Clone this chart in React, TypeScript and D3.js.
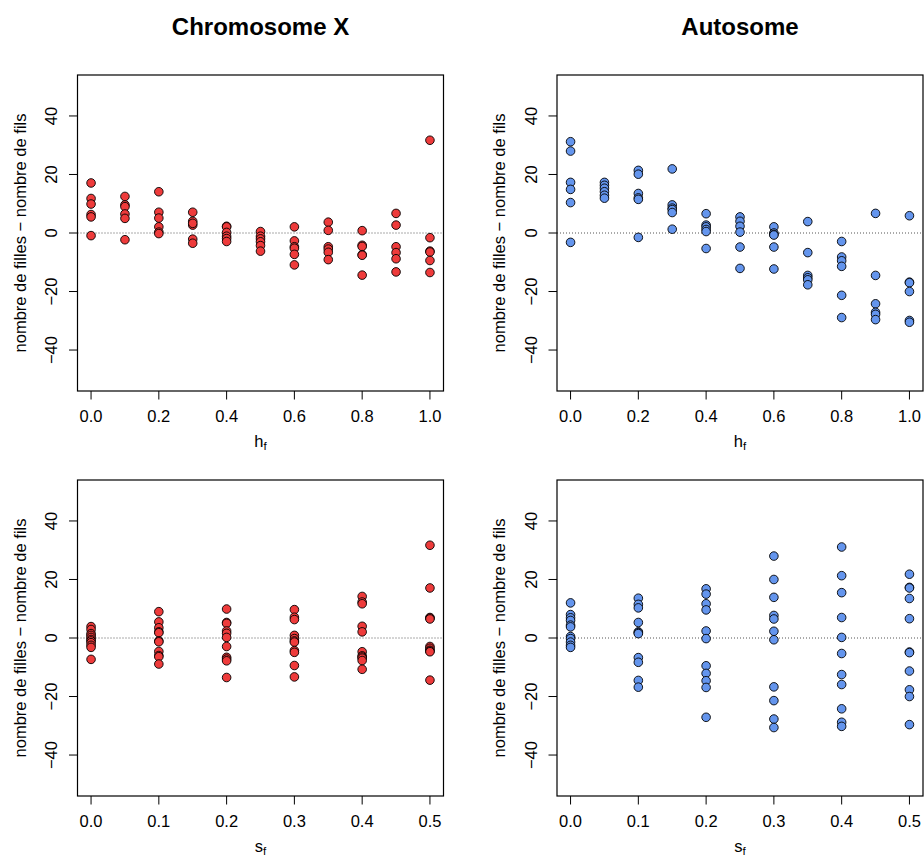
import React from "react";
import * as d3 from "d3";

const hValues = [0, 0.1, 0.2, 0.3, 0.4, 0.5, 0.6, 0.7, 0.8, 0.9, 1.0];
const sValues = [0, 0.1, 0.2, 0.3, 0.4, 0.5];
const hTicks = [0, 0.2, 0.4, 0.6, 0.8, 1.0];
const sTicks = [0, 0.1, 0.2, 0.3, 0.4, 0.5];
const yTicks = [-40, -20, 0, 20, 40];

const titles = ["Chromosome X", "Autosome"];
const yTitle = "nombre de filles \u2212 nombre de fils";

// Chromosome X, grouped by h_f (6 points per group)
const chrXByH = [
  [17.1, 11.8, 9.9, 6.3, 5.5, -0.9],
  [12.5, 9.6, 9.0, 6.5, 5.0, -2.3],
  [14.1, 7.1, 5.1, 2.1, 0.3, -0.2],
  [7.1, 4.0, 2.7, 3.3, -2.1, -3.5],
  [2.3, 2.1, 0.2, -1.1, -1.9, -2.9],
  [0.5, -1.1, -2.0, -3.0, -4.3, -6.2],
  [2.1, -2.7, -4.7, -5.2, -7.3, -10.9],
  [3.7, 0.9, -4.7, -5.5, -6.6, -9.1],
  [0.8, -4.2, -4.6, -7.4, -7.6, -14.4],
  [6.7, 2.7, -4.7, -6.7, -8.8, -13.3],
  [31.7, -1.6, -6.2, -6.5, -9.4, -13.5],
];

// Autosome, grouped by h_f
const autoByH = [
  [31.2, 28.0, 17.3, 14.9, 10.4, -3.2],
  [17.3, 16.3, 15.3, 14.1, 12.9, 11.9],
  [21.4, 20.1, 13.5, 12.0, 11.5, -1.5],
  [21.9, 9.6, 8.5, 8.0, 7.0, 1.3],
  [6.6, 2.7, 2.1, 1.2, 0.5, -5.3],
  [5.5, 4.0, 2.3, 0.3, -4.8, -12.1],
  [2.1, 0.0, -0.5, -0.7, -4.8, -12.3],
  [3.9, -6.7, -14.5, -15.3, -16.0, -17.7],
  [-2.9, -8.2, -9.5, -11.4, -21.3, -28.9],
  [6.7, -14.5, -24.2, -27.1, -27.8, -29.6],
  [5.9, -16.8, -17.0, -20.0, -29.9, -30.5],
];

// Chromosome X, grouped by s_f (11 points per group)
const chrXByS = [
  [3.9, 2.9, 1.5, 0.9, 0.2, -0.5, -1.0, -1.6, -2.5, -3.2, -7.3],
  [9.0, 5.5, 3.5, 2.1, 1.8, -1.0, -1.3, -4.6, -6.0, -6.4, -8.9],
  [9.9, 5.3, 5.0, 2.4, 1.6, 0.2, -2.9, -6.6, -7.2, -7.8, -13.5],
  [9.7, 7.1, 6.3, 0.9, -0.2, -1.0, -1.4, -4.3, -4.9, -9.4, -13.3],
  [14.2, 12.3, 11.7, 4.0, 2.1, -4.7, -6.1, -6.5, -6.9, -7.7, -10.7],
  [31.7, 17.1, 7.0, 6.8, 6.5, -2.9, -3.5, -4.2, -4.5, -4.7, -14.4],
];

// Autosome, grouped by s_f
const autoByS = [
  [12.0, 8.0, 6.9, 6.0, 4.4, 3.8, 0.5, -0.2, -1.4, -2.5, -3.2],
  [13.6, 11.5, 10.3, 5.3, 2.1, 1.8, 1.5, -6.7, -8.3, -14.5, -16.8],
  [16.8, 15.0, 11.7, 9.6, 2.4, -0.2, -9.5, -12.1, -14.6, -16.9, -27.1],
  [28.0, 20.0, 13.9, 7.7, 6.5, 2.3, -0.6, -16.7, -21.4, -27.7, -30.6],
  [31.1, 21.3, 15.5, 7.0, 0.2, -5.3, -12.5, -15.9, -24.2, -28.8, -30.2],
  [21.8, 17.3, 17.1, 13.5, 6.6, -4.8, -5.0, -11.3, -17.7, -20.0, -29.6],
];

const RED = "#EE3B3B";
const BLUE = "#6495ED";
const FONT = "'Liberation Sans', Arial, Helvetica, sans-serif";

type PanelProps = {
  x0: number;
  y0: number;
  w: number;
  h: number;
  xVals: number[];
  xTicks: number[];
  groups: number[][];
  color: string;
  xSym: string;
  title?: string;
};

function Panel({ x0, y0, w, h, xVals, xTicks, groups, color, xSym, title }: PanelProps) {
  const xMax = d3.max(xVals) as number;
  const pad = xMax * 0.04;
  const x = d3.scaleLinear().domain([-pad, xMax + pad]).range([x0, x0 + w]);
  const y = d3.scaleLinear().domain([-54, 54]).range([y0 + h, y0]);
  const fmt = d3.format(".1f");
  const fs = 16.5;
  const cx = x0 + w / 2;
  const cy = y0 + h / 2;
  return (
    <g fontFamily={FONT}>
      {title && (
        <text x={cx} y={35} textAnchor="middle" fontWeight="bold" fontSize={24} fill="#000">
          {title}
        </text>
      )}
      <line x1={x0} x2={x0 + w} y1={y(0)} y2={y(0)} stroke="#555" strokeWidth={1} strokeDasharray="1,2" />
      {groups.map((vals, i) =>
        vals.map((v, j) => (
          <circle key={`${i}-${j}`} cx={x(xVals[i])} cy={y(v)} r={4.3} fill={color} stroke="#000" strokeWidth={0.9} />
        ))
      )}
      <rect x={x0} y={y0} width={w} height={h} fill="none" stroke="#000" strokeWidth={1.2} />
      {xTicks.map((t) => (
        <g key={`xt${t}`}>
          <line x1={x(t)} x2={x(t)} y1={y0 + h} y2={y0 + h + 8.5} stroke="#000" strokeWidth={1} />
          <text x={x(t)} y={y0 + h + 30.7} textAnchor="middle" fontSize={fs} fill="#000">
            {fmt(t)}
          </text>
        </g>
      ))}
      {yTicks.map((t) => (
        <g key={`yt${t}`}>
          <line x1={x0 - 8.5} x2={x0} y1={y(t)} y2={y(t)} stroke="#000" strokeWidth={1} />
          <text
            transform={`translate(${x0 - 20.3},${y(t)}) rotate(-90)`}
            textAnchor="middle"
            fontSize={fs}
            fill="#000"
          >
            {t < 0 ? `\u2212${Math.abs(t)}` : `${t}`}
          </text>
        </g>
      ))}
      <text
        transform={`translate(${x0 - 52},${cy}) rotate(-90)`}
        textAnchor="middle"
        fontSize={fs}
        fill="#000"
      >
        {yTitle}
      </text>
      <text x={cx} y={y0 + h + 56} textAnchor="middle" fontSize={fs} fill="#000">
        {xSym}
        <tspan fontSize={11.5} dy={3}>f</tspan>
      </text>
    </g>
  );
}

export default function App() {
  const W = 924;
  const H = 860;
  const pw = 366;
  const ph = 316;
  const lx = [77.5, 557];
  const ty = [75, 480];
  return (
    <svg width={W} height={H} style={{ display: "block", position: "absolute", left: 0, top: 0, background: "#fff" }}>
      <rect x={0} y={0} width={W} height={H} fill="#fff" />
      <Panel x0={lx[0]} y0={ty[0]} w={pw} h={ph} xVals={hValues} xTicks={hTicks} groups={chrXByH} color={RED} xSym="h" title={titles[0]} />
      <Panel x0={lx[1]} y0={ty[0]} w={pw} h={ph} xVals={hValues} xTicks={hTicks} groups={autoByH} color={BLUE} xSym="h" title={titles[1]} />
      <Panel x0={lx[0]} y0={ty[1]} w={pw} h={ph} xVals={sValues} xTicks={sTicks} groups={chrXByS} color={RED} xSym="s" />
      <Panel x0={lx[1]} y0={ty[1]} w={pw} h={ph} xVals={sValues} xTicks={sTicks} groups={autoByS} color={BLUE} xSym="s" />
    </svg>
  );
}
